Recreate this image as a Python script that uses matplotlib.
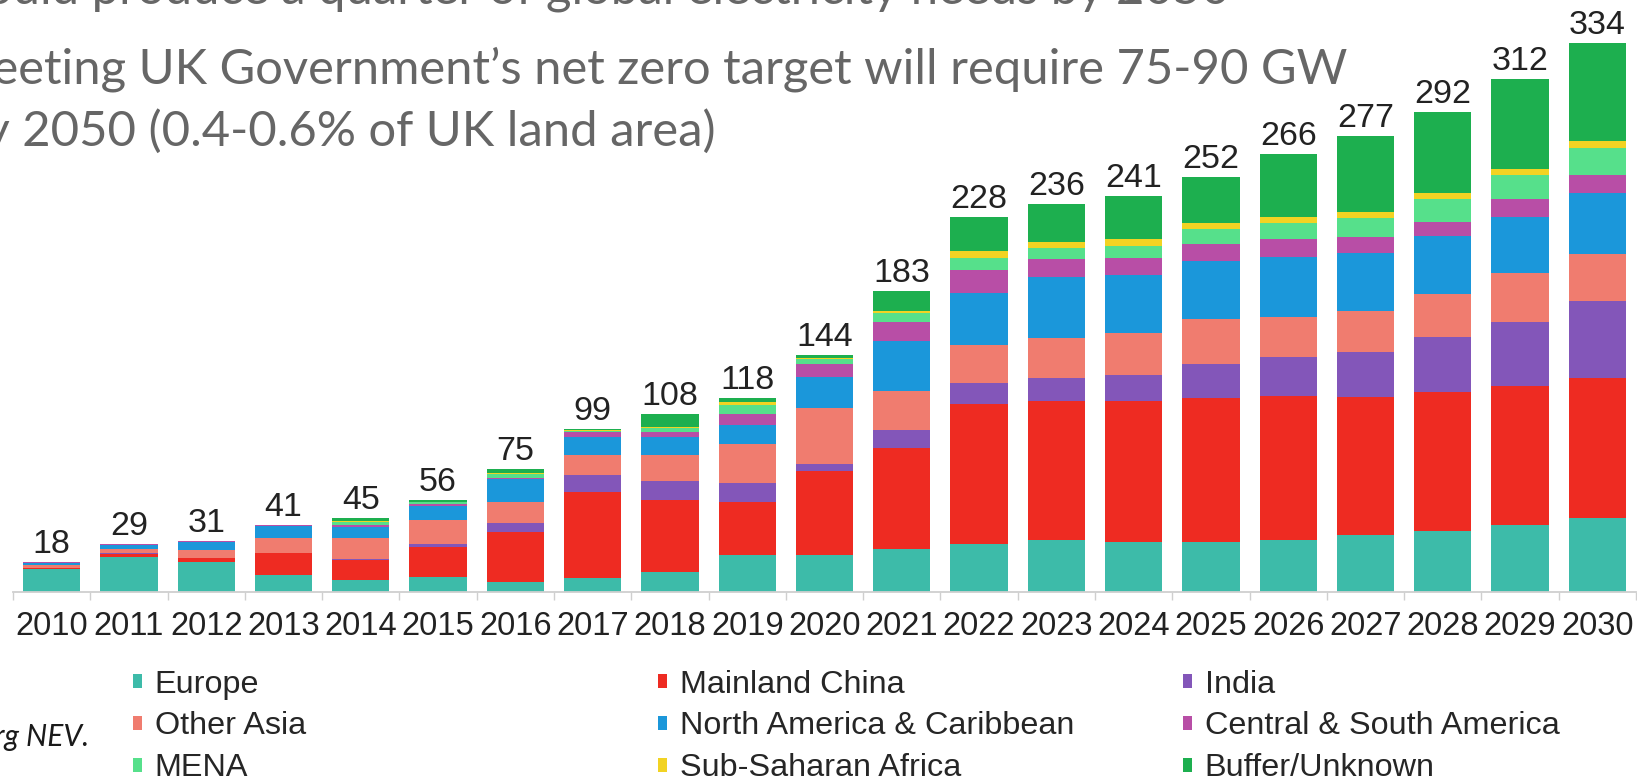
import matplotlib
matplotlib.use("Agg")
import matplotlib.pyplot as plt
import numpy as np

# Annual solar PV installations by region (GW)
years = [str(y) for y in range(2010, 2031)]

europe = [14.2, 21.0, 18.0, 10.3, 7.0, 9.3, 6.3, 8.3, 12.3, 22.5, 22.5, 26.0, 29.0, 31.6, 30.2, 30.2, 31.6, 34.7, 36.9, 40.7, 45.2]
mainland_china = [0.4, 2.4, 2.5, 13.2, 12.5, 18.2, 30.4, 52.7, 43.6, 32.4, 51.1, 61.3, 85.1, 84.5, 85.9, 87.9, 87.7, 84.1, 84.8, 84.3, 84.8]
india = [0.1, 0.2, 0.3, 0.4, 0.3, 1.7, 5.1, 10.1, 11.8, 11.2, 4.2, 11.2, 13.1, 13.8, 15.8, 20.5, 23.7, 27.0, 33.1, 39.0, 46.8]
other_asia = [2.0, 2.4, 4.7, 8.9, 13.0, 14.6, 13.1, 12.2, 15.6, 23.9, 33.9, 23.7, 23.0, 24.3, 25.4, 27.4, 24.4, 24.9, 26.1, 29.7, 28.8]
north_america = [1.1, 2.6, 5.0, 7.6, 7.0, 8.5, 13.6, 11.1, 11.1, 11.5, 19.2, 30.4, 31.8, 37.5, 35.4, 35.2, 36.4, 35.3, 35.3, 34.3, 36.9]
central_south_america = [0.2, 0.3, 0.3, 0.3, 1.0, 1.0, 1.0, 2.7, 3.1, 6.7, 7.5, 11.7, 13.7, 10.7, 10.2, 10.2, 10.8, 9.7, 9.0, 10.7, 11.2]
mena = [0.0, 0.1, 0.2, 0.2, 2.0, 1.5, 2.5, 1.0, 2.5, 5.5, 3.1, 5.1, 7.2, 6.9, 7.4, 9.1, 9.5, 11.7, 13.5, 14.6, 16.5]
sub_saharan_africa = [0.0, 0.0, 0.0, 0.1, 0.2, 0.2, 0.5, 0.3, 0.5, 1.5, 0.8, 1.6, 4.4, 3.7, 4.1, 4.0, 4.1, 3.8, 3.8, 3.8, 3.8]
buffer_unknown = [0.0, 0.0, 0.0, 0.0, 2.0, 1.0, 2.5, 0.6, 7.5, 2.8, 1.7, 12.0, 20.7, 23.0, 26.6, 27.5, 37.8, 45.8, 49.5, 54.9, 60.0]

series_names = ["Europe", "Mainland China", "India",
                "Other Asia", "North America & Caribbean", "Central & South America",
                "MENA", "Sub-Saharan Africa", "Buffer/Unknown"]
series_values = [europe, mainland_china, india,
                 other_asia, north_america, central_south_america,
                 mena, sub_saharan_africa, buffer_unknown]
series_colors = ["#3dbba9", "#ee2b22", "#8356b9",
                 "#f07c6f", "#1b97da", "#b84ea6",
                 "#56e08b", "#f2d323", "#1daf4f"]

W, H = 1637, 777
plt.rcParams["font.family"] = ["Liberation Sans", "DejaVu Sans"]

fig = plt.figure(figsize=(W / 100, H / 100), dpi=100)
fig.patch.set_facecolor("white")

base_px = 592          # axis line, px from top
px_per_gw = 1.645
ax = fig.add_axes([13 / W, (H - base_px) / H, (1636 - 13) / W, base_px / H])

x = np.arange(len(years))
bottom = np.zeros(len(years))
handles = []
for name, vals, col in zip(series_names, series_values, series_colors):
    v = np.array(vals)
    b = ax.bar(x, v, width=0.74, bottom=bottom, color=col, linewidth=0, label=name)
    handles.append(b)
    bottom += v

# total labels above each stack
for xi, tot in zip(x, bottom):
    ax.annotate(f"{tot:.0f}", (xi, tot), xytext=(0, 6.5), textcoords="offset points",
                ha="center", va="baseline", fontsize=24.5, color="#222222")

ax.set_xlim(-0.5, len(years) - 0.5)
ax.set_ylim(0, base_px / px_per_gw)
for s in ("top", "right", "left"):
    ax.spines[s].set_visible(False)
ax.spines["bottom"].set_color("#cfcfcf")
ax.spines["bottom"].set_linewidth(1.3)
ax.set_yticks([])
ax.set_xticks(x)
ax.set_xticklabels(years)
ax.tick_params(axis="x", which="major", length=0, pad=14, labelsize=23.5, labelcolor="#222222")
ax.set_xticks(np.arange(-0.5, len(years), 1.0), minor=True)
ax.tick_params(axis="x", which="minor", length=6, width=1.0, color="#cfcfcf", direction="out")

# legend: three columns, entries in stacking order row by row
col_px = [133, 658, 1183]
for c in range(3):
    hs = [handles[r * 3 + c] for r in range(3)]
    ls = [series_names[r * 3 + c] for r in range(3)]
    fig.legend(hs, ls, loc="center left", bbox_to_anchor=(col_px[c] / W, (H - 726.5) / H),
               frameon=False, fontsize=23.3, handlelength=0.27, handleheight=0.27,
               handletextpad=0.4, labelspacing=0.37, borderpad=0, borderaxespad=0,
               labelcolor="#262626")

# slide text around the chart
grey = "#666666"
body = ["Lato", "DejaVu Sans"]
fig.text(1230 / W, 1 - 3 / H, "Solar could produce a quarter of global electricity needs by 2050",
         ha="right", va="baseline", fontsize=35.3, color=grey, family=body)
t2 = fig.text(1347 / W, 1 - 83.5 / H, "Meeting UK Government\u2019s net zero target will require 75-90 GW",
              ha="right", va="baseline", fontsize=35.3, color=grey, family=body)
fig.canvas.draw()
x_left = t2.get_window_extent().x0 + 10
fig.text(x_left / W, 1 - 146 / H, "by 2050 (0.4-0.6% of UK land area)",
         ha="left", va="baseline", fontsize=35.3, color=grey, family=body)
fig.text(89 / W, 1 - 746 / H, "Source: Bloomberg NEV.", ha="right", va="baseline",
         fontsize=21.5, style="italic", color="#1a1a1a", family=body)

fig.savefig("out.png", dpi=100, facecolor="white")
